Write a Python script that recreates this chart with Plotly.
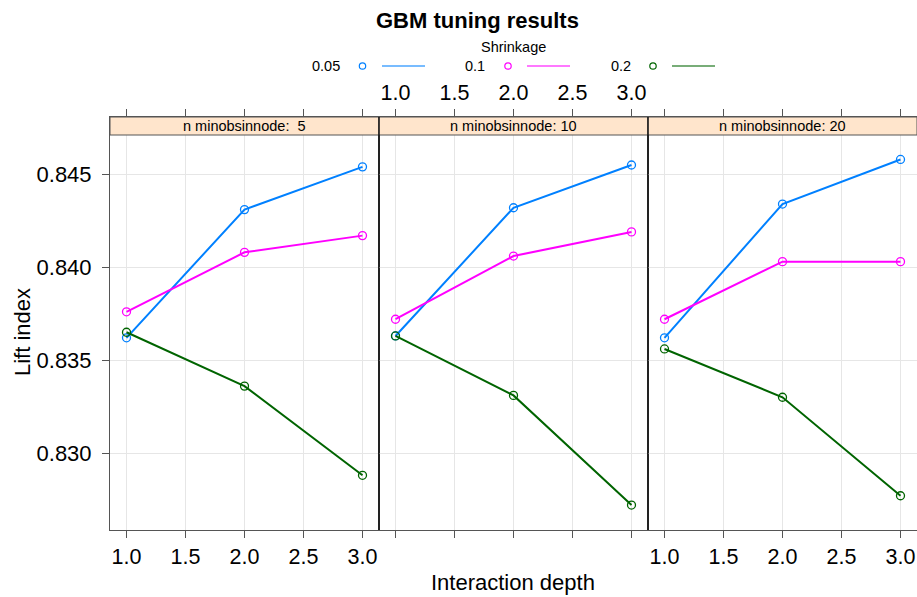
import plotly.graph_objects as go

# ---- data -------------------------------------------------------------
depth = [1, 2, 3]
minobs_levels = [5, 10, 20]
shrinkage_levels = ["0.05", "0.1", "0.2"]

# lift index per shrinkage level, one list per n.minobsinnode panel
lift_minobs5 = {
    "0.05": [0.8362, 0.8431, 0.8454],
    "0.1":  [0.8376, 0.8408, 0.8417],
    "0.2":  [0.8365, 0.8336, 0.8288],
}
lift_minobs10 = {
    "0.05": [0.8363, 0.8432, 0.8455],
    "0.1":  [0.8372, 0.8406, 0.8419],
    "0.2":  [0.8363, 0.8331, 0.8272],
}
lift_minobs20 = {
    "0.05": [0.8362, 0.8434, 0.8458],
    "0.1":  [0.8372, 0.8403, 0.8403],
    "0.2":  [0.8356, 0.8330, 0.8277],
}
panels = [lift_minobs5, lift_minobs10, lift_minobs20]
strip_labels = ["n minobsinnode:  5", "n minobsinnode: 10", "n minobsinnode: 20"]

x_ticks = [1.0, 1.5, 2.0, 2.5, 3.0]
x_ticktext = ["1.0", "1.5", "2.0", "2.5", "3.0"]
y_ticks = [0.830, 0.835, 0.840, 0.845]
y_ticktext = ["0.830", "0.835", "0.840", "0.845"]

# ---- styling ----------------------------------------------------------
colors = {"0.05": "#0080ff", "0.1": "#ff00ff", "0.2": "#006400"}
FONT = "Liberation Sans, Arial, Helvetica, sans-serif"
W, H = 917, 597
ML, MR, MT, MB = 110, 0, 117, 67
PW, PH = W - ML - MR, H - MT - MB
STRIP_PX = 18

x_range = [0.8602, 3.1398]
y_range = [0.825856, 0.848084]
y_data_top = y_range[1] - (y_range[1] - y_range[0]) * STRIP_PX / PH


def px_x(px):
    return (px - ML) / PW


def px_y(py):
    return (H - MB - py) / PH


fig = go.Figure()

for i, panel in enumerate(panels):
    xa = "x" if i == 0 else f"x{i + 1}"
    ya = "y" if i == 0 else f"y{i + 1}"
    for s in shrinkage_levels:
        fig.add_trace(go.Scatter(
            x=depth, y=panel[s], xaxis=xa, yaxis=ya,
            mode="lines+markers",
            line=dict(color=colors[s], width=2),
            marker=dict(symbol="circle-open", size=8, color=colors[s],
                        line=dict(width=1.3, color=colors[s])),
            showlegend=False, hoverinfo="x+y",
        ))

layout = dict(
    width=W, height=H,
    margin=dict(l=ML, r=MR, t=MT, b=MB, pad=0),
    paper_bgcolor="white", plot_bgcolor="white",
    font=dict(family=FONT, color="black"),
    showlegend=False,
)

axis_common_x = dict(
    range=x_range, tickvals=x_ticks, ticktext=x_ticktext,
    showgrid=True, gridcolor="#e6e6e6", gridwidth=1, zeroline=False,
    showline=True, linecolor="#555555", linewidth=1,
    ticks="outside", ticklen=7, tickwidth=1, tickcolor="#555555",
    mirror="ticks", tickfont=dict(size=21.5, color="black", family=FONT),
    fixedrange=True,
)
axis_common_y = dict(
    range=y_range, tickvals=y_ticks, ticktext=y_ticktext,
    showgrid=True, gridcolor="#e6e6e6", gridwidth=1, zeroline=False,
    showline=True, linecolor="#555555", linewidth=1, mirror=True,
    tickfont=dict(size=22, color="black", family=FONT),
    fixedrange=True,
)

for i in range(3):
    suffix = "" if i == 0 else str(i + 1)
    dom = [i / 3, (i + 1) / 3]
    xa = dict(axis_common_x, domain=dom, anchor=f"y{suffix}")
    if i == 1:
        xa["side"] = "top"
    ya = dict(axis_common_y, domain=[0, 1], anchor=f"x{suffix}")
    if i == 0:
        ya.update(ticks="outside", ticklen=7, tickcolor="#555555",
                  showticklabels=True, ticklabelstandoff=6)
    else:
        ya.update(ticks="", showticklabels=False)
    layout[f"xaxis{suffix}"] = xa
    layout[f"yaxis{suffix}"] = ya

shapes = []
annotations = []

# strips on top of each panel
for i in range(3):
    suffix = "" if i == 0 else str(i + 1)
    shapes.append(dict(
        type="rect", xref=f"x{suffix} domain", yref=f"y{suffix}",
        x0=0, x1=1, y0=y_data_top, y1=y_range[1],
        fillcolor="#ffe5cc", line=dict(color="#555555", width=1), layer="above",
    ))
    annotations.append(dict(
        xref=f"x{suffix} domain", yref=f"y{suffix} domain",
        x=0.5, y=1 - (STRIP_PX / 2) / PH, text=strip_labels[i],
        showarrow=False, xanchor="center", yanchor="middle",
        font=dict(size=14.5, family=FONT, color="black"),
    ))

# panel dividers
for i in (1, 2):
    shapes.append(dict(
        type="line", xref="paper", yref="paper",
        x0=i / 3, x1=i / 3, y0=0, y1=1,
        line=dict(color="black", width=1.2), layer="above",
    ))

# title
annotations.append(dict(
    xref="paper", yref="paper", x=px_x(477), y=px_y(20),
    text="<b>GBM tuning results</b>", showarrow=False,
    xanchor="center", yanchor="middle",
    font=dict(size=22, family=FONT, color="black"),
))

# key: title and entries (label, symbol, line)
annotations.append(dict(
    xref="paper", yref="paper", x=px_x(513), y=px_y(47),
    text="Shrinkage", showarrow=False, xanchor="center", yanchor="middle",
    font=dict(size=14.5, family=FONT, color="black"),
))
key_text_right = [342, 487, 633]
key_symbol_x = [362.5, 508, 653]
key_line_x = [(382, 425), (527, 570), (672, 715)]
key_y = 66
for s, tx, sx, (lx0, lx1) in zip(shrinkage_levels, key_text_right, key_symbol_x, key_line_x):
    annotations.append(dict(
        xref="paper", yref="paper", x=px_x(tx), y=px_y(key_y),
        text=s, showarrow=False, xanchor="right", yanchor="middle",
        font=dict(size=14.5, family=FONT, color="black"),
    ))
    r = 3.2
    shapes.append(dict(
        type="circle", xref="paper", yref="paper",
        x0=px_x(sx - r), x1=px_x(sx + r), y0=px_y(key_y + r), y1=px_y(key_y - r),
        line=dict(color=colors[s], width=1.2), fillcolor="rgba(0,0,0,0)",
    ))
    shapes.append(dict(
        type="line", xref="paper", yref="paper",
        x0=px_x(lx0), x1=px_x(lx1), y0=px_y(key_y), y1=px_y(key_y),
        line=dict(color=colors[s], width=1.3), opacity=0.7,
    ))

# axis titles
annotations.append(dict(
    xref="paper", yref="paper", x=px_x(513), y=px_y(582),
    text="Interaction depth", showarrow=False, xanchor="center", yanchor="middle",
    font=dict(size=22, family=FONT, color="black"),
))
annotations.append(dict(
    xref="paper", yref="paper", x=px_x(22), y=px_y(332),
    text="Lift index", showarrow=False, textangle=-90,
    xanchor="center", yanchor="middle",
    font=dict(size=22, family=FONT, color="black"),
))

layout["shapes"] = shapes
layout["annotations"] = annotations
fig.update_layout(**layout)

fig.write_html("out.html", config={"displayModeBar": False})
